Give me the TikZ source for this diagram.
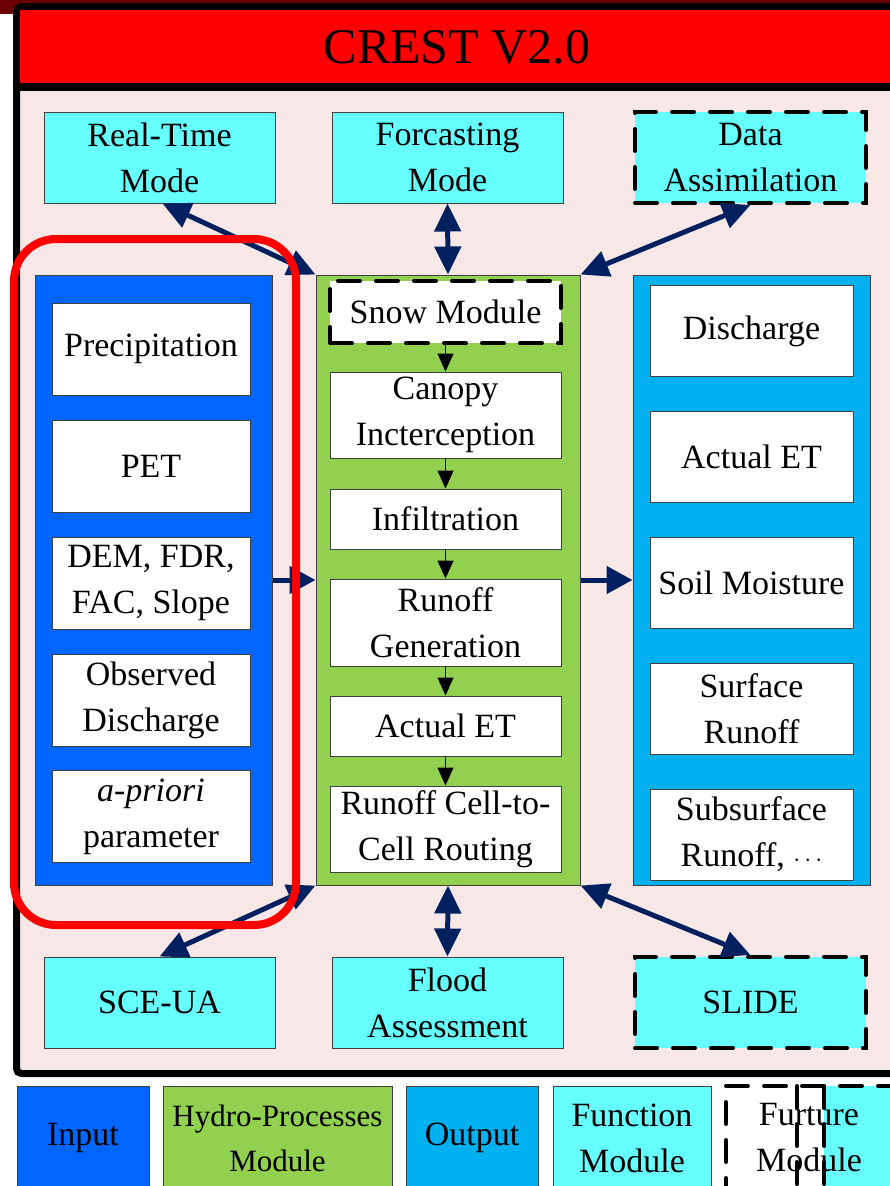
\documentclass[tikz,border=0pt]{standalone}
\usepackage{fontspec}
\setmainfont{Liberation Serif}
\usetikzlibrary{arrows.meta}
\definecolor{cyanf}{HTML}{66FFFF}
\definecolor{inputblue}{HTML}{0066FF}
\definecolor{hydrogreen}{HTML}{92D050}
\definecolor{outblue}{HTML}{00B0F0}
\definecolor{pinkbg}{HTML}{F8E7E7}
\definecolor{navyarr}{HTML}{002060}
\definecolor{titlered}{HTML}{FF0000}
\definecolor{darkstrip}{HTML}{6B0000}
\definecolor{boxline}{HTML}{404040}
\tikzset{
  box/.style={draw=boxline, line width=1pt, inner sep=0pt, align=center},
  fbox/.style={box, fill=cyanf, minimum width=231pt, minimum height=91pt},
  dashedge/.style={draw=black, dash pattern=on 22pt off 16pt, line width=4pt, line cap=round},
  panel/.style={box, minimum width=237pt, minimum height=610pt},
  inbox/.style={box, fill=white, minimum width=198pt, minimum height=92pt},
  outbox/.style={box, fill=white, minimum width=203pt, minimum height=91pt},
  hbox/.style={box, fill=white, minimum width=231pt},
  biarrow/.style={draw=navyarr, line width=5pt, {Triangle[length=28pt,width=26pt]}-{Triangle[length=28pt,width=26pt]}},
  onearrow/.style={draw=navyarr, line width=5pt, -{Triangle[length=26pt,width=27pt]}},
  smallarrow/.style={draw=black, line width=1pt, -{Triangle[length=18pt,width=16pt]}},
  legbox/.style={box, minimum height=104pt},
}
\begin{document}
\begin{tikzpicture}[x=1pt,y=-1pt,font=\fontsize{34}{46}\selectfont]
\clip (0,0) rectangle (890,1186);
\fill[white] (0,0) rectangle (890,1186);
\fill[darkstrip] (0,0) rectangle (890,14);
% outer frame
\draw[line width=7pt, rounded corners=5pt, fill=pinkbg] (16.5,6.5) rectangle (905,1073.5);
\fill[titlered] (20,10) rectangle (905,83);
\draw[line width=8pt] (13,87) -- (905,87);
\node[font=\fontsize{50}{60}\selectfont] (title) at (457,47) {CREST V2.0};

% function modules top
\node[fbox] (rt) at (159.5,157.5) {Real-Time\\Mode};
\node[fbox] (fc) at (447.5,157.5) {Forcasting\\Mode};
\node[fbox, dashedge] (da) at (750.5,157.5) {Data\\Assimilation};

% panels
\node[panel, fill=inputblue] (inp) at (153.5,580) {};
\node[panel, fill=hydrogreen, minimum width=264pt] (hyd) at (448,580) {};
\node[panel, fill=outblue] (out) at (751.5,580) {};

% input boxes
\node[inbox] (prec) at (151,349) {Precipitation};
\node[inbox] (pet) at (151,466) {PET};
\node[inbox] (dem) at (151,583) {DEM, FDR,\\FAC, Slope};
\node[inbox] (obs) at (151,700) {Observed\\Discharge};
\node[inbox] (apr) at (151,816.5) {\textit{a-priori}\\parameter};

% hydro boxes
\node[hbox, dashedge, minimum height=62pt] (snow) at (445.5,312) {Snow Module};
\node[hbox, minimum height=86pt] (can) at (445.5,415) {Canopy\\Incterception};
\node[hbox, minimum height=60pt] (inf) at (445.5,519) {Infiltration};
\node[hbox, minimum height=87pt] (rg) at (445.5,622.5) {Runoff\\Generation};
\node[hbox, minimum height=60pt] (aet) at (445.5,726) {Actual ET};
\node[hbox, minimum height=86pt] (rout) at (445.5,829) {Runoff Cell-to-\\Cell Routing};

\draw[smallarrow] (snow) -- (can);
\draw[smallarrow] (can) -- (inf);
\draw[smallarrow] (inf) -- (rg);
\draw[smallarrow] (rg) -- (aet);
\draw[smallarrow] (aet) -- (rout);

% output boxes
\node[outbox] (dis) at (751.5,331) {Discharge};
\node[outbox] (oet) at (751.5,456.5) {Actual ET};
\node[outbox] (sm) at (751.5,582.5) {Soil Moisture};
\node[outbox] (sr) at (751.5,708.5) {Surface\\Runoff};
\node[outbox] (ssr) at (751.5,834.5) {Subsurface\\Runoff, $\cdots$};

% bottom function modules
\node[fbox] (sce) at (159.5,1002.5) {SCE-UA};
\node[fbox] (fa) at (447.5,1002.5) {Flood\\Assessment};
\node[fbox, dashedge] (sl) at (750.5,1002.5) {SLIDE};

% navy arrows
\draw[biarrow] ([xshift=3pt]rt.south) -- (hyd.north west);
\draw[biarrow] (fc.south) -- (hyd.north);
\draw[biarrow] (da.south) -- (hyd.north east);
\draw[biarrow] (sce.north) -- (hyd.south west);
\draw[biarrow] (fa.north) -- (hyd.south);
\draw[biarrow] (sl.north) -- (hyd.south east);
\draw[onearrow] (inp.east) -- (hyd.west);
\draw[onearrow] (hyd.east) -- (out.west);

% red highlight
\draw[titlered, line width=8pt, rounded corners=42pt] (14,239) rectangle (296,925);

% legend
\node[legbox, fill=inputblue, minimum width=132pt] (lin) at (83,1138) {Input};
\node[legbox, fill=hydrogreen, minimum width=229pt, font=\fontsize{31}{45}\selectfont] (lhy) at (277.5,1138) {Hydro-Processes\\Module};
\node[legbox, fill=outblue, minimum width=132pt] (lout) at (472,1138) {Output};
\node[legbox, fill=cyanf, minimum width=158pt] (lfun) at (632,1138) {Function\\Module};
\fill[white] (726,1086) rectangle (960,1200);
\fill[cyanf] (824,1086) rectangle (960,1200);
\draw[dashedge] (726,1200) -- (726,1086) -- (960,1086);
\draw[dashedge] (797,1086) -- (797,1200);
\draw[dashedge] (824,1086) -- (824,1200);
\node[align=center] (lfut) at (809,1138) {Furture\\Module};
\end{tikzpicture}
\end{document}
